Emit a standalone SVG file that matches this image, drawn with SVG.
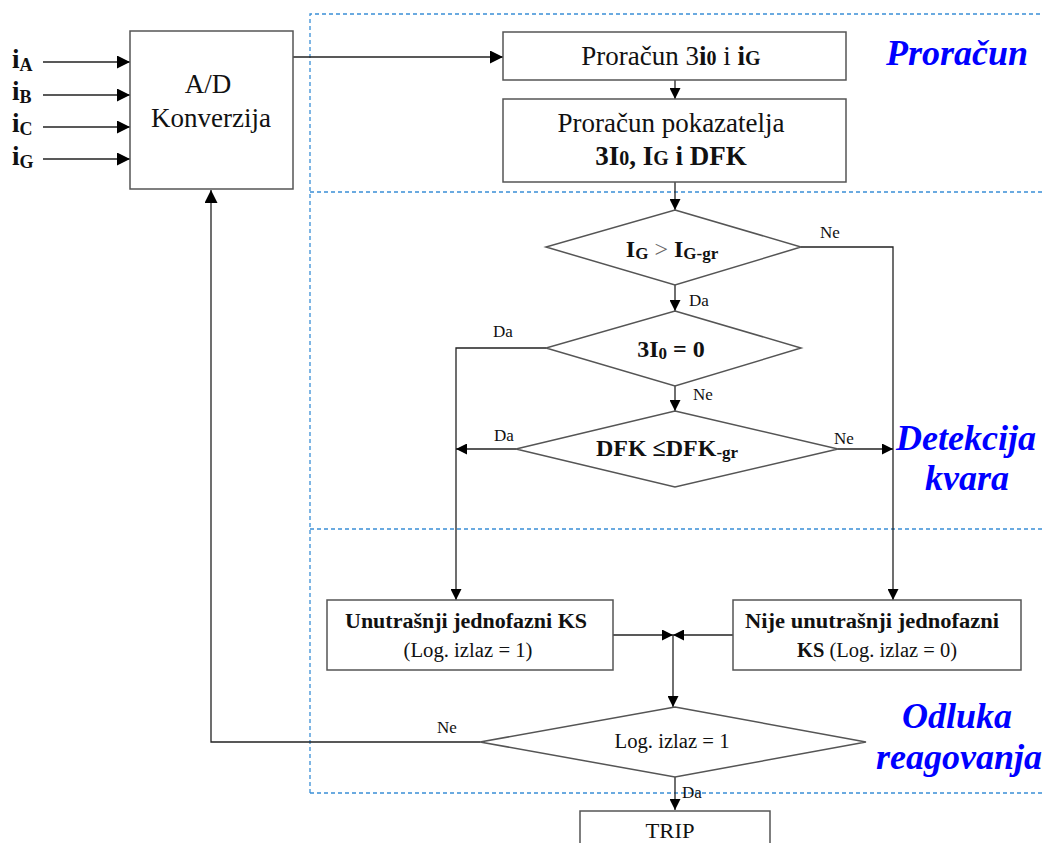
<svg xmlns="http://www.w3.org/2000/svg" width="1042" height="843" viewBox="0 0 1042 843">
<style>
.box{fill:#fff;stroke:#555;stroke-width:1.5}
.ln{fill:none;stroke:#222;stroke-width:1.3}
.dash{fill:none;stroke:#3a8fd6;stroke-width:1.3;stroke-dasharray:4 3}
.t{font-family:"Liberation Serif","Times New Roman",serif;fill:#111}
.b{font-weight:bold}
.sec{font-family:"Liberation Serif","Times New Roman",serif;font-weight:bold;font-style:italic;fill:#0000ff;font-size:36px;text-anchor:middle}
.lbl{font-family:"Liberation Serif","Times New Roman",serif;font-size:17px;fill:#111}
</style>
<defs>
<marker id="ah" viewBox="0 0 10 10" refX="10" refY="5" markerWidth="11" markerHeight="11" markerUnits="userSpaceOnUse" orient="auto">
<path d="M0,0 L10,5 L0,10 z" fill="#000"/>
</marker>
<marker id="ahb" viewBox="0 0 10 10" refX="10" refY="5" markerWidth="13" markerHeight="13" markerUnits="userSpaceOnUse" orient="auto">
<path d="M0,0 L10,5 L0,10 z" fill="#000"/>
</marker>
</defs>
<rect width="1042" height="843" fill="#fff"/>

<g id="sections">
<path class="dash" d="M310,793 V14 H1042"/>
<path class="dash" d="M310,192 H1042"/>
<path class="dash" d="M310,529 H1042"/>
<path class="dash" d="M310,793 H1042"/>
<text class="sec" x="957" y="65">Proračun</text>
<text class="sec" x="966" y="450">Detekcija</text>
<text class="sec" x="967" y="490">kvara</text>
<text class="sec" x="957" y="728">Odluka</text>
<text class="sec" x="959" y="769">reagovanja</text>
</g>

<g id="connectors">
<line class="ln" x1="43" y1="62" x2="130" y2="62" marker-end="url(#ahb)" stroke-width="2"/>
<line class="ln" x1="43" y1="95" x2="130" y2="95" marker-end="url(#ahb)" stroke-width="2"/>
<line class="ln" x1="43" y1="127" x2="130" y2="127" marker-end="url(#ahb)" stroke-width="2"/>
<line class="ln" x1="43" y1="159" x2="130" y2="159" marker-end="url(#ahb)" stroke-width="2"/>
<line class="ln" x1="293" y1="57" x2="503" y2="57" marker-end="url(#ahb)" stroke="#666" stroke-width="2"/>
<line class="ln" x1="675" y1="80" x2="675" y2="99" marker-end="url(#ah)"/>
<line class="ln" x1="675" y1="182" x2="675" y2="210" marker-end="url(#ah)"/>
<polyline class="ln" points="801,247 893,247 893,600" marker-end="url(#ah)"/>
<line class="ln" x1="675" y1="285" x2="675" y2="311" marker-end="url(#ah)"/>
<polyline class="ln" points="546,348 456,348 456,600" marker-end="url(#ah)"/>
<line class="ln" x1="675" y1="386" x2="675" y2="411" marker-end="url(#ah)"/>
<line class="ln" x1="516" y1="449" x2="456" y2="449" marker-end="url(#ah)"/>
<line class="ln" x1="838" y1="449" x2="893" y2="449" marker-end="url(#ah)"/>
<line class="ln" x1="613" y1="635" x2="673" y2="635" marker-end="url(#ah)"/>
<line class="ln" x1="733" y1="635" x2="673" y2="635" marker-end="url(#ah)"/>
<line class="ln" x1="673" y1="635" x2="673" y2="707" marker-end="url(#ah)"/>
<polyline class="ln" points="480,742 211,742 211,190" marker-end="url(#ahb)"/>
<line class="ln" x1="675" y1="777" x2="675" y2="810" marker-end="url(#ah)"/>
<text class="lbl" x="820" y="238">Ne</text>
<text class="lbl" x="689" y="306">Da</text>
<text class="lbl" x="493" y="337">Da</text>
<text class="lbl" x="693" y="400">Ne</text>
<text class="lbl" x="494" y="441">Da</text>
<text class="lbl" x="834" y="444">Ne</text>
<text class="lbl" x="437" y="733">Ne</text>
<text class="lbl" x="682" y="798">Da</text>
</g>

<g id="inputs">
<text class="t b" x="12" y="68" font-size="27">i<tspan font-size="18" dy="3">A</tspan></text>
<text class="t b" x="12" y="100" font-size="27">i<tspan font-size="18" dy="3">B</tspan></text>
<text class="t b" x="12" y="132" font-size="27">i<tspan font-size="18" dy="3">C</tspan></text>
<text class="t b" x="12" y="165" font-size="27">i<tspan font-size="18" dy="3">G</tspan></text>
</g>

<g id="ad">
<rect class="box" x="130" y="31" width="163" height="158"/>
<text class="t" x="208" y="93" font-size="27" text-anchor="middle">A/D</text>
<text class="t" x="211" y="127" font-size="27" text-anchor="middle">Konverzija</text>
</g>

<g id="proracun1">
<rect class="box" x="503" y="32" width="343" height="48"/>
<text class="t" x="671" y="65" font-size="27" text-anchor="middle">Proračun 3<tspan class="b">i</tspan><tspan class="b" font-size="20">0</tspan> i <tspan class="b">i</tspan><tspan class="b" font-size="20">G</tspan></text>
</g>

<g id="proracun2">
<rect class="box" x="503" y="99" width="343" height="83"/>
<text class="t" x="671" y="132" font-size="27" text-anchor="middle">Proračun pokazatelja</text>
<text class="t b" x="671" y="165" font-size="27" text-anchor="middle">3I<tspan font-size="20">0</tspan>, I<tspan font-size="20">G</tspan> i DFK</text>
</g>

<g id="d1">
<polygon class="box" points="675,210 801,247 675,285 546,247"/>
<text class="t b" x="672" y="257" font-size="24" text-anchor="middle">I<tspan font-size="17" dy="2">G</tspan><tspan dy="-2" font-weight="normal" fill="#666"> &gt; </tspan>I<tspan font-size="17" dy="2">G-gr</tspan></text>
</g>

<g id="d2">
<polygon class="box" points="675,311 801,348 675,386 546,348"/>
<text class="t b" x="671" y="357" font-size="24" text-anchor="middle">3I<tspan font-size="17" dy="2">0</tspan><tspan dy="-2"> = 0</tspan></text>
</g>

<g id="d3">
<polygon class="box" points="675,411 838,449 675,487 516,449"/>
<text class="t b" x="667" y="456" font-size="24" text-anchor="middle">DFK ≤DFK<tspan font-size="17" dy="2">-gr</tspan></text>
</g>

<g id="unutrasnji">
<rect class="box" x="327" y="600" width="286" height="70"/>
<text class="t b" x="466" y="628" font-size="20" text-anchor="middle" textLength="242" lengthAdjust="spacingAndGlyphs">Unutrašnji  jednofazni KS</text>
<text class="t" x="468" y="657" font-size="20" text-anchor="middle" textLength="129" lengthAdjust="spacingAndGlyphs">(Log. izlaz = 1)</text>
</g>

<g id="nije">
<rect class="box" x="733" y="600" width="288" height="70"/>
<text class="t b" x="872" y="628" font-size="20" text-anchor="middle" textLength="254" lengthAdjust="spacingAndGlyphs">Nije unutrašnji  jednofazni</text>
<text class="t" x="877" y="657" font-size="20" text-anchor="middle" textLength="160" lengthAdjust="spacingAndGlyphs"><tspan class="b">KS</tspan> (Log. izlaz = 0)</text>
</g>

<g id="d4">
<polygon class="box" points="675,707 866,742 675,777 480,742"/>
<text class="t" x="672" y="748" font-size="20" text-anchor="middle" textLength="115" lengthAdjust="spacingAndGlyphs">Log. izlaz = 1</text>
</g>

<g id="trip">
<rect class="box" x="580" y="811" width="190" height="40"/>
<text class="t" x="670" y="838" font-size="20" text-anchor="middle" textLength="49" lengthAdjust="spacingAndGlyphs">TRIP</text>
</g>
</svg>
